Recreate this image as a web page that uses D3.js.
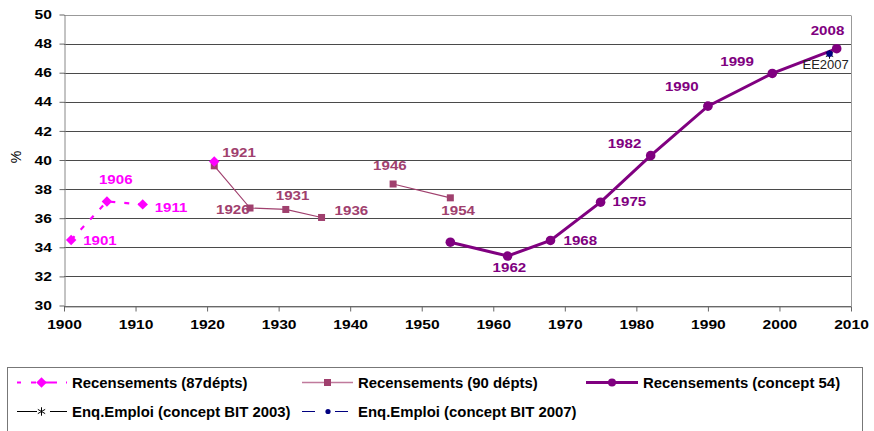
<!DOCTYPE html>
<html>
<head>
<meta charset="utf-8">
<script src="https://cdn.jsdelivr.net/npm/d3@7"></script>
<style>
  body { margin: 0; background: #fff; }
  text { font-family: Arial, "Liberation Sans", sans-serif; }
</style>
</head>
<body>
<svg id="chart"></svg>
<script>
// données
const years87 = [1901, 1906, 1911, 1916, 1921];
const values87 = [34.5, 37.15, 36.95, null, 39.9];
const labels87 = ['1901', '1906', '1911', null, null];

const years90 = [1921, 1926, 1931, 1936, 1941, 1946, 1954];
const values90 = [39.6, 36.7, 36.6, 36.05, null, 38.35, 37.4];
const labels90 = ['1921', '1926', '1931', '1936', null, '1946', '1954'];

const years54 = [1954, 1962, 1968, 1975, 1982, 1990, 1999, 2008];
const values54 = [34.35, 33.4, 34.47, 37.1, 40.3, 43.7, 45.95, 47.65];
const labels54 = [null, '1962', '1968', '1975', '1982', '1990', '1999', '2008'];

const yearsBIT03 = [2007];
const valuesBIT03 = [47.25];
const yearsBIT07 = [2007];
const valuesBIT07 = [47.3];

const xTicks = [1900, 1910, 1920, 1930, 1940, 1950, 1960, 1970, 1980, 1990, 2000, 2010];
const yTicks = [30, 32, 34, 36, 38, 40, 42, 44, 46, 48, 50];

// décalages des étiquettes (dx, dy) par rapport au point
const off87 = [[12, 5], [-8, -17], [12, 8], null, null];
const off90 = [[8, -9], [-34, 6], [-10, -9], [13, -2], null, [-20, -14], [-9, 17]];
const off54 = [null, [-15, 16], [13, 4.5], [12, 4], [-43, -8], [-43, -15], [-52, -7], [-26, -14]];

const W = 874, H = 431;
const svg = d3.select('#chart').attr('width', W).attr('height', H);

const x = d3.scaleLinear().domain([1900, 2010]).range([64, 851]);
const y = d3.scaleLinear().domain([30, 50]).range([305.5, 14.5]);

const C87 = '#ff00ff', C90 = '#a0406e', C54 = '#800080', CNAVY = '#000080';

// grille
svg.append('g')
  .selectAll('line')
  .data(yTicks)
  .enter()
  .append('line')
  .attr('x1', x(1900)).attr('x2', x(2010))
  .attr('y1', d => Math.round(y(d)) + 0.5).attr('y2', d => Math.round(y(d)) + 0.5)
  .attr('stroke', d => (d === 50 ? '#999' : '#4a4a4a'))
  .attr('stroke-width', 1);

// cadre droit
svg.append('line')
  .attr('x1', Math.round(x(2010)) + 0.5).attr('x2', Math.round(x(2010)) + 0.5)
  .attr('y1', Math.round(y(50)) + 0.5).attr('y2', Math.round(y(30)) + 0.5)
  .attr('stroke', '#999');

// axes
const xAxis = svg.append('g')
  .attr('transform', `translate(0,${Math.round(y(30)) + 0.5})`)
  .call(d3.axisBottom(x).tickValues(xTicks).tickFormat(d3.format('d')).tickSize(5).tickSizeOuter(0));
xAxis.select('.domain').attr('stroke', '#888');
xAxis.selectAll('.tick line').attr('stroke', '#666');
xAxis.selectAll('text')
  .attr('dy', '1.15em')
  .attr('transform', 'scale(1.2,1)')
  .style('font-size', '13px')
  .style('font-weight', 'bold')
  .attr('fill', '#000');

const yAxis = svg.append('g')
  .attr('transform', `translate(${Math.round(x(1900)) + 0.5},0)`)
  .call(d3.axisLeft(y).tickValues(yTicks).tickSize(5).tickSizeOuter(0));
yAxis.select('.domain').attr('stroke', '#888');
yAxis.selectAll('.tick line').attr('stroke', '#666');
yAxis.selectAll('text')
  .attr('x', -10.5)
  .attr('transform', 'scale(1.2,1)')
  .style('font-size', '13px')
  .style('font-weight', 'bold')
  .attr('fill', '#000');

svg.append('text')
  .attr('transform', 'translate(21,157) rotate(-90)')
  .attr('text-anchor', 'middle')
  .style('font-size', '14px')
  .attr('fill', '#000')
  .text('%');

const line = d3.line()
  .defined(d => d[1] != null)
  .x(d => x(d[0]))
  .y(d => y(d[1]));

const pts87 = years87.map((yr, i) => [yr, values87[i], labels87[i], off87[i]]);
const pts90 = years90.map((yr, i) => [yr, values90[i], labels90[i], off90[i]]);
const pts54 = years54.map((yr, i) => [yr, values54[i], labels54[i], off54[i]]);

// 90 départements
svg.append('path')
  .datum(pts90)
  .attr('d', line)
  .attr('fill', 'none')
  .attr('stroke', C90)
  .attr('stroke-width', 1.2);
svg.selectAll('.sq90')
  .data(pts90.filter(d => d[1] != null))
  .enter()
  .append('rect')
  .attr('x', d => x(d[0]) - 3.5)
  .attr('y', d => y(d[1]) - 3.5)
  .attr('width', 7)
  .attr('height', 7)
  .attr('fill', C90);

// 87 départements
svg.append('path')
  .datum(pts87)
  .attr('d', line)
  .attr('fill', 'none')
  .attr('stroke', C87)
  .attr('stroke-width', 2.2)
  .attr('stroke-dasharray', '5,9');
const diamond = d3.symbol().type(d3.symbolDiamond2).size(70);
svg.selectAll('.dm87')
  .data(pts87.filter(d => d[1] != null))
  .enter()
  .append('path')
  .attr('d', diamond)
  .attr('transform', d => `translate(${x(d[0])},${y(d[1])})`)
  .attr('fill', C87);

// concept 54
svg.append('path')
  .datum(pts54)
  .attr('d', line)
  .attr('fill', 'none')
  .attr('stroke', C54)
  .attr('stroke-width', 3);
svg.selectAll('.c54')
  .data(pts54)
  .enter()
  .append('circle')
  .attr('cx', d => x(d[0]))
  .attr('cy', d => y(d[1]))
  .attr('r', 4.8)
  .attr('fill', C54);

// enquêtes emploi
const star = d3.symbol().type(d3.symbolAsterisk).size(50);
svg.selectAll('.bit03')
  .data(yearsBIT03.map((yr, i) => [yr, valuesBIT03[i]]))
  .enter()
  .append('path')
  .attr('d', star)
  .attr('transform', d => `translate(${x(d[0])},${y(d[1])})`)
  .attr('fill', 'none')
  .attr('stroke', '#000')
  .attr('stroke-width', 1);
svg.selectAll('.bit07')
  .data(yearsBIT07.map((yr, i) => [yr, valuesBIT07[i]]))
  .enter()
  .append('circle')
  .attr('cx', d => x(d[0]))
  .attr('cy', d => y(d[1]))
  .attr('r', 3.2)
  .attr('fill', CNAVY);

// étiquettes (texte un peu étiré en largeur comme sur l'original)
function addLabels(pts, color) {
  svg.append('g')
    .selectAll('text')
    .data(pts.filter(d => d[2] != null))
    .enter()
    .append('text')
    .attr('transform', d => `translate(${x(d[0]) + d[3][0]},${y(d[1]) + d[3][1]}) scale(1.12,1)`)
    .style('font-size', '13.5px')
    .style('font-weight', 'bold')
    .attr('fill', color)
    .text(d => d[2]);
}
addLabels(pts87, C87);
addLabels(pts90, C90);
addLabels(pts54, C54);

svg.append('text')
  .attr('x', x(yearsBIT07[0]) - 27)
  .attr('y', y(valuesBIT07[0]) + 15)
  .style('font-size', '13px')
  .attr('fill', '#222')
  .text('EE2007');

// légende
const legend = svg.append('g');
legend.append('rect')
  .attr('x', 7.5).attr('y', 367.5)
  .attr('width', 855).attr('height', 70)
  .attr('fill', '#fff')
  .attr('stroke', '#777');

const legendItems = [
  { label: 'Recensements (87dépts)', x: 16, row: 0, kind: 'r87' },
  { label: 'Recensements (90 dépts)', x: 302, row: 0, kind: 'r90' },
  { label: 'Recensements (concept 54)', x: 586, row: 0, kind: 'r54' },
  { label: 'Enq.Emploi (concept BIT 2003)', x: 16, row: 1, kind: 'bit03' },
  { label: 'Enq.Emploi (concept BIT 2007)', x: 302, row: 1, kind: 'bit07' }
];
const rowY = [382.5, 411.5];

legendItems.forEach(it => {
  const g = legend.append('g').attr('transform', `translate(${it.x},${rowY[it.row]})`);
  const sw = it.kind === 'r54' ? 52 : 51;
  const mid = sw / 2;
  if (it.kind === 'r87') {
    g.append('line').attr('x1', 1).attr('x2', sw).attr('stroke', C87).attr('stroke-width', 2.2)
      .attr('stroke-dasharray', '4,10,5,5,16,9');
    g.append('path').attr('d', diamond).attr('transform', `translate(${mid},0)`).attr('fill', C87);
  } else if (it.kind === 'r90') {
    g.append('line').attr('x1', 0).attr('x2', sw).attr('stroke', '#c07a9c').attr('stroke-width', 1.5);
    g.append('rect').attr('x', mid - 3.5).attr('y', -3.5).attr('width', 7).attr('height', 7).attr('fill', C90);
  } else if (it.kind === 'r54') {
    g.append('line').attr('x1', 0).attr('x2', sw).attr('stroke', C54).attr('stroke-width', 3);
    g.append('circle').attr('cx', mid).attr('r', 4).attr('fill', C54);
  } else if (it.kind === 'bit03') {
    g.append('line').attr('x1', 1).attr('x2', 21).attr('stroke', '#000');
    g.append('line').attr('x1', 34).attr('x2', sw).attr('stroke', '#000');
    g.append('path').attr('d', star).attr('transform', `translate(${mid},0)`)
      .attr('fill', 'none').attr('stroke', '#000');
  } else {
    g.append('line').attr('x1', 0).attr('x2', 13).attr('stroke', CNAVY);
    g.append('line').attr('x1', 33).attr('x2', 46).attr('stroke', CNAVY);
    g.append('circle').attr('cx', 26).attr('r', 2.6).attr('fill', CNAVY);
  }
  g.append('text')
    .attr('transform', `translate(${it.kind === 'r54' ? 57 : 56},5) scale(1.065,1)`)
    .style('font-size', '14px')
    .style('font-weight', 'bold')
    .attr('fill', '#000')
    .text(it.label);
});
</script>
</body>
</html>
